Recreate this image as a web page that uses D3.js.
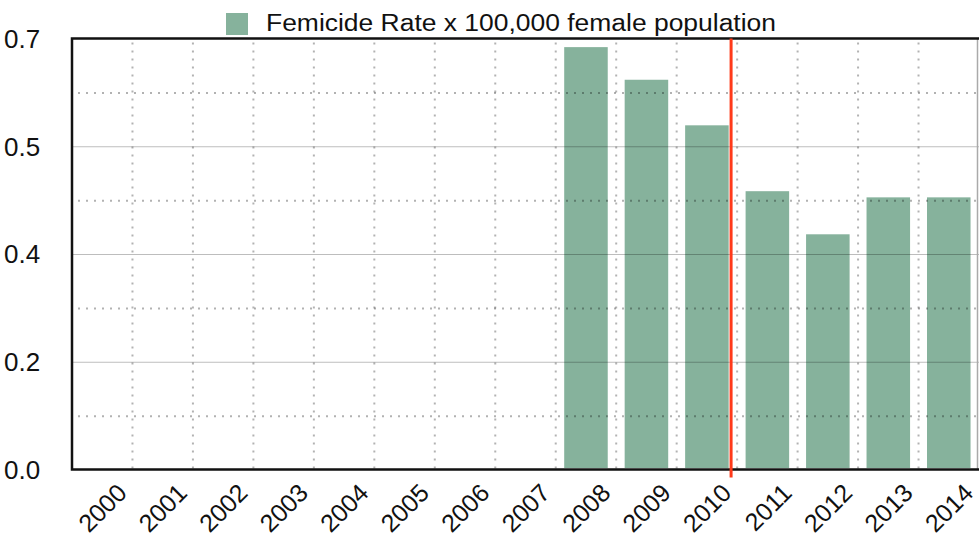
<!DOCTYPE html>
<html>
<head>
<meta charset="utf-8">
<script src="https://cdn.jsdelivr.net/npm/d3@7"></script>
<style>
  body { margin: 0; background: #fff; }
  svg text { font-family: "Liberation Sans", Arial, Helvetica, sans-serif; fill: #111; }
</style>
</head>
<body>
<div id="chart"></div>
<script>
// Data
const years = ["2000", "2001", "2002", "2003", "2004", "2005", "2006", "2007",
    "2008", "2009", "2010", "2011", "2012", "2013", "2014"];
const rates = [null, null, null, null, null, null, null, null,
    0.686, 0.633, 0.559, 0.452, 0.382, 0.442, 0.442];
const yTicks = [0, 0.175, 0.35, 0.525, 0.7];
const yTickLabels = ["0.0", "0.2", "0.4", "0.5", "0.7"];
const yMinorTicks = [0.0875, 0.2625, 0.4375, 0.6125];
const markerYear = 2010.9;
const legendLabel = "Femicide Rate x 100,000 female population";

// Size
const width = 979,
    height = 541;
const margin = { top: 38.5, right: 0, bottom: 71.5, left: 72 };
const barColor = "#86b29c";

const svg = d3.select("#chart")
    .append("svg")
    .attr("width", width)
    .attr("height", height);

const x = d3.scaleBand()
    .domain(years)
    .range([margin.left, width - margin.right]);

const y = d3.scaleLinear()
    .domain([0, 0.7])
    .range([height - margin.bottom, margin.top]);

const bw = x.bandwidth();
const barW = bw * 0.72;

// Bars
svg.append("g")
    .selectAll("rect")
    .data(years.map((d, i) => ({ year: d, value: rates[i] })).filter(d => d.value != null))
    .join("rect")
    .attr("x", d => x(d.year) + (bw - barW) / 2)
    .attr("width", barW)
    .attr("y", d => y(d.value))
    .attr("height", d => y(0) - 1.5 - y(d.value))
    .style("fill", barColor);

// Grid, drawn over the bars
const grid = svg.append("g");

grid.selectAll(".hmajor")
    .data(yTicks.slice(1, -1))
    .join("line")
    .attr("x1", margin.left)
    .attr("x2", width)
    .attr("y1", d => y(d) + 0.5)
    .attr("y2", d => y(d) + 0.5)
    .style("stroke", "rgba(0,0,0,0.26)")
    .style("stroke-width", 1);

grid.selectAll(".hminor")
    .data(yMinorTicks)
    .join("line")
    .attr("x1", margin.left + 6)
    .attr("x2", width)
    .attr("y1", d => y(d) + 0.5)
    .attr("y2", d => y(d) + 0.5)
    .style("stroke", "rgba(0,0,0,0.3)")
    .style("stroke-width", 2)
    .style("stroke-dasharray", "2,6");

grid.selectAll(".vminor")
    .data(years.slice(1))
    .join("line")
    .attr("x1", d => x(d))
    .attr("x2", d => x(d))
    .attr("y1", margin.top + 4)
    .attr("y2", y(0))
    .style("stroke", "rgba(0,0,0,0.3)")
    .style("stroke-width", 2)
    .style("stroke-dasharray", "2,6");

// right border
svg.append("line")
    .attr("x1", width - 1.5).attr("x2", width - 1.5)
    .attr("y1", margin.top).attr("y2", y(0))
    .style("stroke", "#aaa")
    .style("stroke-width", 1.5);

// Axis lines
svg.append("path")
    .attr("d", `M${width},${margin.top}H${margin.left}V${y(0)}H${width}`)
    .style("fill", "none")
    .style("stroke", "#111")
    .style("stroke-width", 2.5);

// Marker line
const markerX = x(String(Math.floor(markerYear))) + (markerYear % 1) * bw;
svg.append("line")
    .attr("x1", markerX).attr("x2", markerX)
    .attr("y1", margin.top)
    .attr("y2", y(0) + 8)
    .style("stroke", "#ff3a1a")
    .style("stroke-width", 3);

// Y labels
svg.append("g")
    .selectAll("text")
    .data(yTicks)
    .join("text")
    .attr("x", 4)
    .attr("y", d => y(d))
    .attr("dy", "0.36em")
    .style("font-size", "26px")
    .text((d, i) => yTickLabels[i]);

// X labels
svg.append("g")
    .selectAll("text")
    .data(years)
    .join("text")
    .attr("transform", d => `translate(${x(d) + bw / 2 + 26},${y(0) + 25}) rotate(-45)`)
    .attr("text-anchor", "end")
    .style("font-size", "25px")
    .text(d => d);

// Legend
const legend = svg.append("g");
legend.append("rect")
    .attr("x", 226)
    .attr("y", 13)
    .attr("width", 22)
    .attr("height", 22)
    .style("fill", barColor);
legend.append("text")
    .attr("x", 266)
    .attr("y", 31)
    .attr("textLength", 510)
    .attr("lengthAdjust", "spacingAndGlyphs")
    .style("font-size", "23px")
    .text(legendLabel);
</script>
</body>
</html>
